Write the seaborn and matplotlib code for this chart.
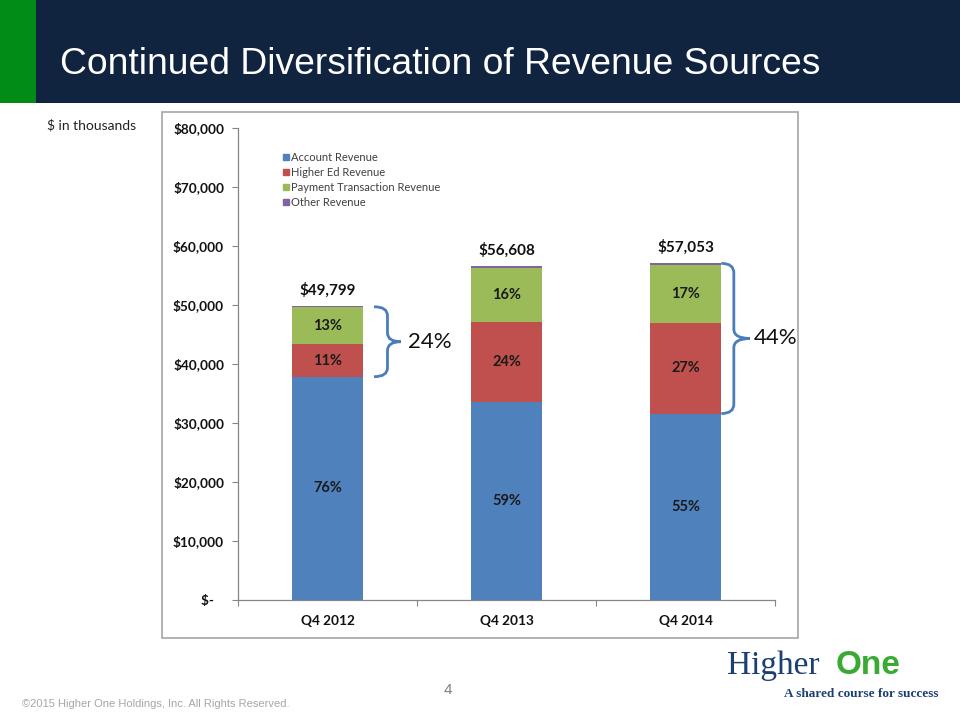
import matplotlib
matplotlib.use('Agg')
import matplotlib.pyplot as plt
import seaborn as sns
import pandas as pd
import numpy as np
from matplotlib.path import Path
from matplotlib.patches import PathPatch, Rectangle
from matplotlib.ticker import FuncFormatter
from matplotlib.lines import Line2D

# datos ($ en miles)
trimestres = ['Q4 2012', 'Q4 2013', 'Q4 2014']
account_rev = [37850, 33600, 31600]
higher_ed_rev = [5480, 13600, 15400]
payment_rev = [6370, 9100, 9800]
other_rev = [99, 308, 253]
pct_account = ['76%', '59%', '55%']
pct_higher_ed = ['11%', '24%', '27%']
pct_payment = ['13%', '16%', '17%']
totales = ['$49,799', '$56,608', '$57,053']
llaves_pct = ['24%', '44%']

series = ['Account Revenue', 'Higher Ed Revenue', 'Payment Transaction Revenue', 'Other Revenue']
colores = ['#4F81BD', '#C0504D', '#9BBB59', '#8064A2']

sns.set_theme(style='white')
plt.rcParams['font.family'] = ['Lato', 'DejaVu Sans']

df = pd.DataFrame({'trimestre': trimestres, 'Account Revenue': account_rev,
                   'Higher Ed Revenue': higher_ed_rev,
                   'Payment Transaction Revenue': payment_rev,
                   'Other Revenue': other_rev})
acum = df[series].cumsum(axis=1)

W, H = 960, 720
fig = plt.figure(figsize=(9.6, 7.2), dpi=100)

def fx(x):
    return x / W

def fy(y):
    return 1 - y / H

# cabecera
fig.patches.append(Rectangle((0, fy(103)), 1, 103 / H, transform=fig.transFigure,
                             facecolor='#10233F', edgecolor='none', zorder=0))
fig.patches.append(Rectangle((0, fy(103)), fx(36), 103 / H, transform=fig.transFigure,
                             facecolor='#008C17', edgecolor='none', zorder=1))
fig.text(fx(60), fy(64), 'Continued Diversification of Revenue Sources', color='white',
         fontsize=26.8, family=['Liberation Sans'], va='center', ha='left')
fig.text(fx(47), fy(125), '$ in thousands', fontsize=10, color='#222222', va='center')

# marco del grafico
fig.patches.append(Rectangle((fx(162), fy(638)), fx(798 - 162), (638 - 112) / H,
                             transform=fig.transFigure, facecolor='none',
                             edgecolor='#A6A6A6', linewidth=1.2, zorder=0))

ax = fig.add_axes([fx(238), fy(600), fx(775 - 238), (600 - 128) / H])
ax.set_facecolor('none')
ax.set_zorder(5)

# barras apiladas: se dibujan las sumas acumuladas de mayor a menor
for i in range(len(series) - 1, -1, -1):
    sns.barplot(x=df['trimestre'], y=acum[series[i]], color=colores[i], width=0.4,
                saturation=1, linewidth=0, ax=ax, zorder=2)

ax.set_ylim(0, 80000)
ax.set_xlim(-0.5, 2.5)
ax.set_yticks(np.arange(0, 80001, 10000))
ax.yaxis.set_major_formatter(FuncFormatter(lambda v, p: '$-   ' if v == 0 else f'${v:,.0f}'))
ax.set_xlabel('')
ax.set_ylabel('')
for lbl in ax.get_yticklabels() + ax.get_xticklabels():
    lbl.set_fontweight('bold')
    lbl.set_fontsize(9.8)
    lbl.set_color('#111111')
ax.tick_params(axis='y', left=True, length=4, width=0.8, color='#868686', pad=6)
ax.tick_params(axis='x', bottom=False, pad=5)
ax.set_xticks([-0.5, 0.5, 1.5, 2.5], minor=True)
ax.tick_params(axis='x', which='minor', bottom=True, length=4, width=0.8, color='#868686')
sns.despine(ax=ax, top=True, right=True)
for s in ['left', 'bottom']:
    ax.spines[s].set_color('#868686')
    ax.spines[s].set_linewidth(0.9)

# etiquetas de porcentaje
for i in range(len(trimestres)):
    bases = [0, account_rev[i], account_rev[i] + higher_ed_rev[i]]
    alturas = [account_rev[i], higher_ed_rev[i], payment_rev[i]]
    textos = [pct_account[i], pct_higher_ed[i], pct_payment[i]]
    for b, h, t in zip(bases, alturas, textos):
        ax.text(i, b + h / 2, t, ha='center', va='center', fontsize=10.5,
                fontweight='bold', color='#1a1a1a', zorder=3)
    ax.annotate(totales[i], (i, acum['Other Revenue'][i]), xytext=(0, 11.5),
                textcoords='offset points', ha='center', va='center',
                fontsize=11, fontweight='bold', color='#111111')


def llave(ax, x0, x1, xt, y0, y1, r):
    ym = (y0 + y1) / 2
    verts = [(x0, y0), (x1, y0), (x1, y0 + r),
             (x1, ym - r), (x1, ym), (xt, ym),
             (x1, ym), (x1, ym + r),
             (x1, y1 - r), (x1, y1), (x0, y1)]
    codes = [Path.MOVETO, Path.CURVE3, Path.CURVE3,
             Path.LINETO, Path.CURVE3, Path.CURVE3,
             Path.CURVE3, Path.CURVE3,
             Path.LINETO, Path.CURVE3, Path.CURVE3]
    ax.add_patch(PathPatch(Path(verts, codes), facecolor='none', edgecolor='#4A7EBB',
                           linewidth=2, clip_on=False, zorder=3))


# llave 2012 (Higher Ed + Payment)
y0 = account_rev[0]
y1 = account_rev[0] + higher_ed_rev[0] + payment_rev[0]
llave(ax, 0.26, 0.335, 0.41, y0, y1, 1500)
ax.text(0.45, (y0 + y1) / 2, llaves_pct[0], fontsize=16, va='center', ha='left',
        color='#111111', clip_on=False)

# llave 2014
y0 = account_rev[2]
y1 = acum['Other Revenue'][2]
llave(ax, 2.2, 2.27, 2.36, y0, y1, 1600)
ax.text(2.38, (y0 + y1) / 2, llaves_pct[1], fontsize=16, va='center', ha='left',
        color='#111111', clip_on=False)

# leyenda
handles = [Line2D([], [], marker='s', linestyle='none', markersize=5,
                  markerfacecolor=c, markeredgecolor=c) for c in colores]
ax.legend(handles, series, loc='upper left', bbox_to_anchor=(0.062, 0.97), frameon=False,
          fontsize=8, handletextpad=0.1, labelspacing=0.35, handlelength=0.8,
          labelcolor='#404040')

# pie de pagina
fig.text(fx(22), fy(704), '\u00a92015 Higher One Holdings, Inc. All Rights Reserved.',
         fontsize=8, color='#A6A6A6', family=['Liberation Sans'], va='center')
fig.text(fx(448), fy(690), '4', fontsize=11, color='#7F7F7F',
         family=['Liberation Sans'], ha='center', va='center')
fig.text(fx(727), fy(666), 'Higher', fontsize=24, color='#1B3F73',
         family=['Liberation Serif'], va='center')
fig.text(fx(836), fy(666), 'One', fontsize=24, color='#3AAA35', fontweight='bold',
         family=['Liberation Sans'], va='center')
fig.text(fx(939), fy(694), 'A shared course for success', fontsize=9.5, color='#1B3F73',
         fontweight='bold', family=['Liberation Serif'], va='center', ha='right')

fig.savefig('out.png', dpi=100)
